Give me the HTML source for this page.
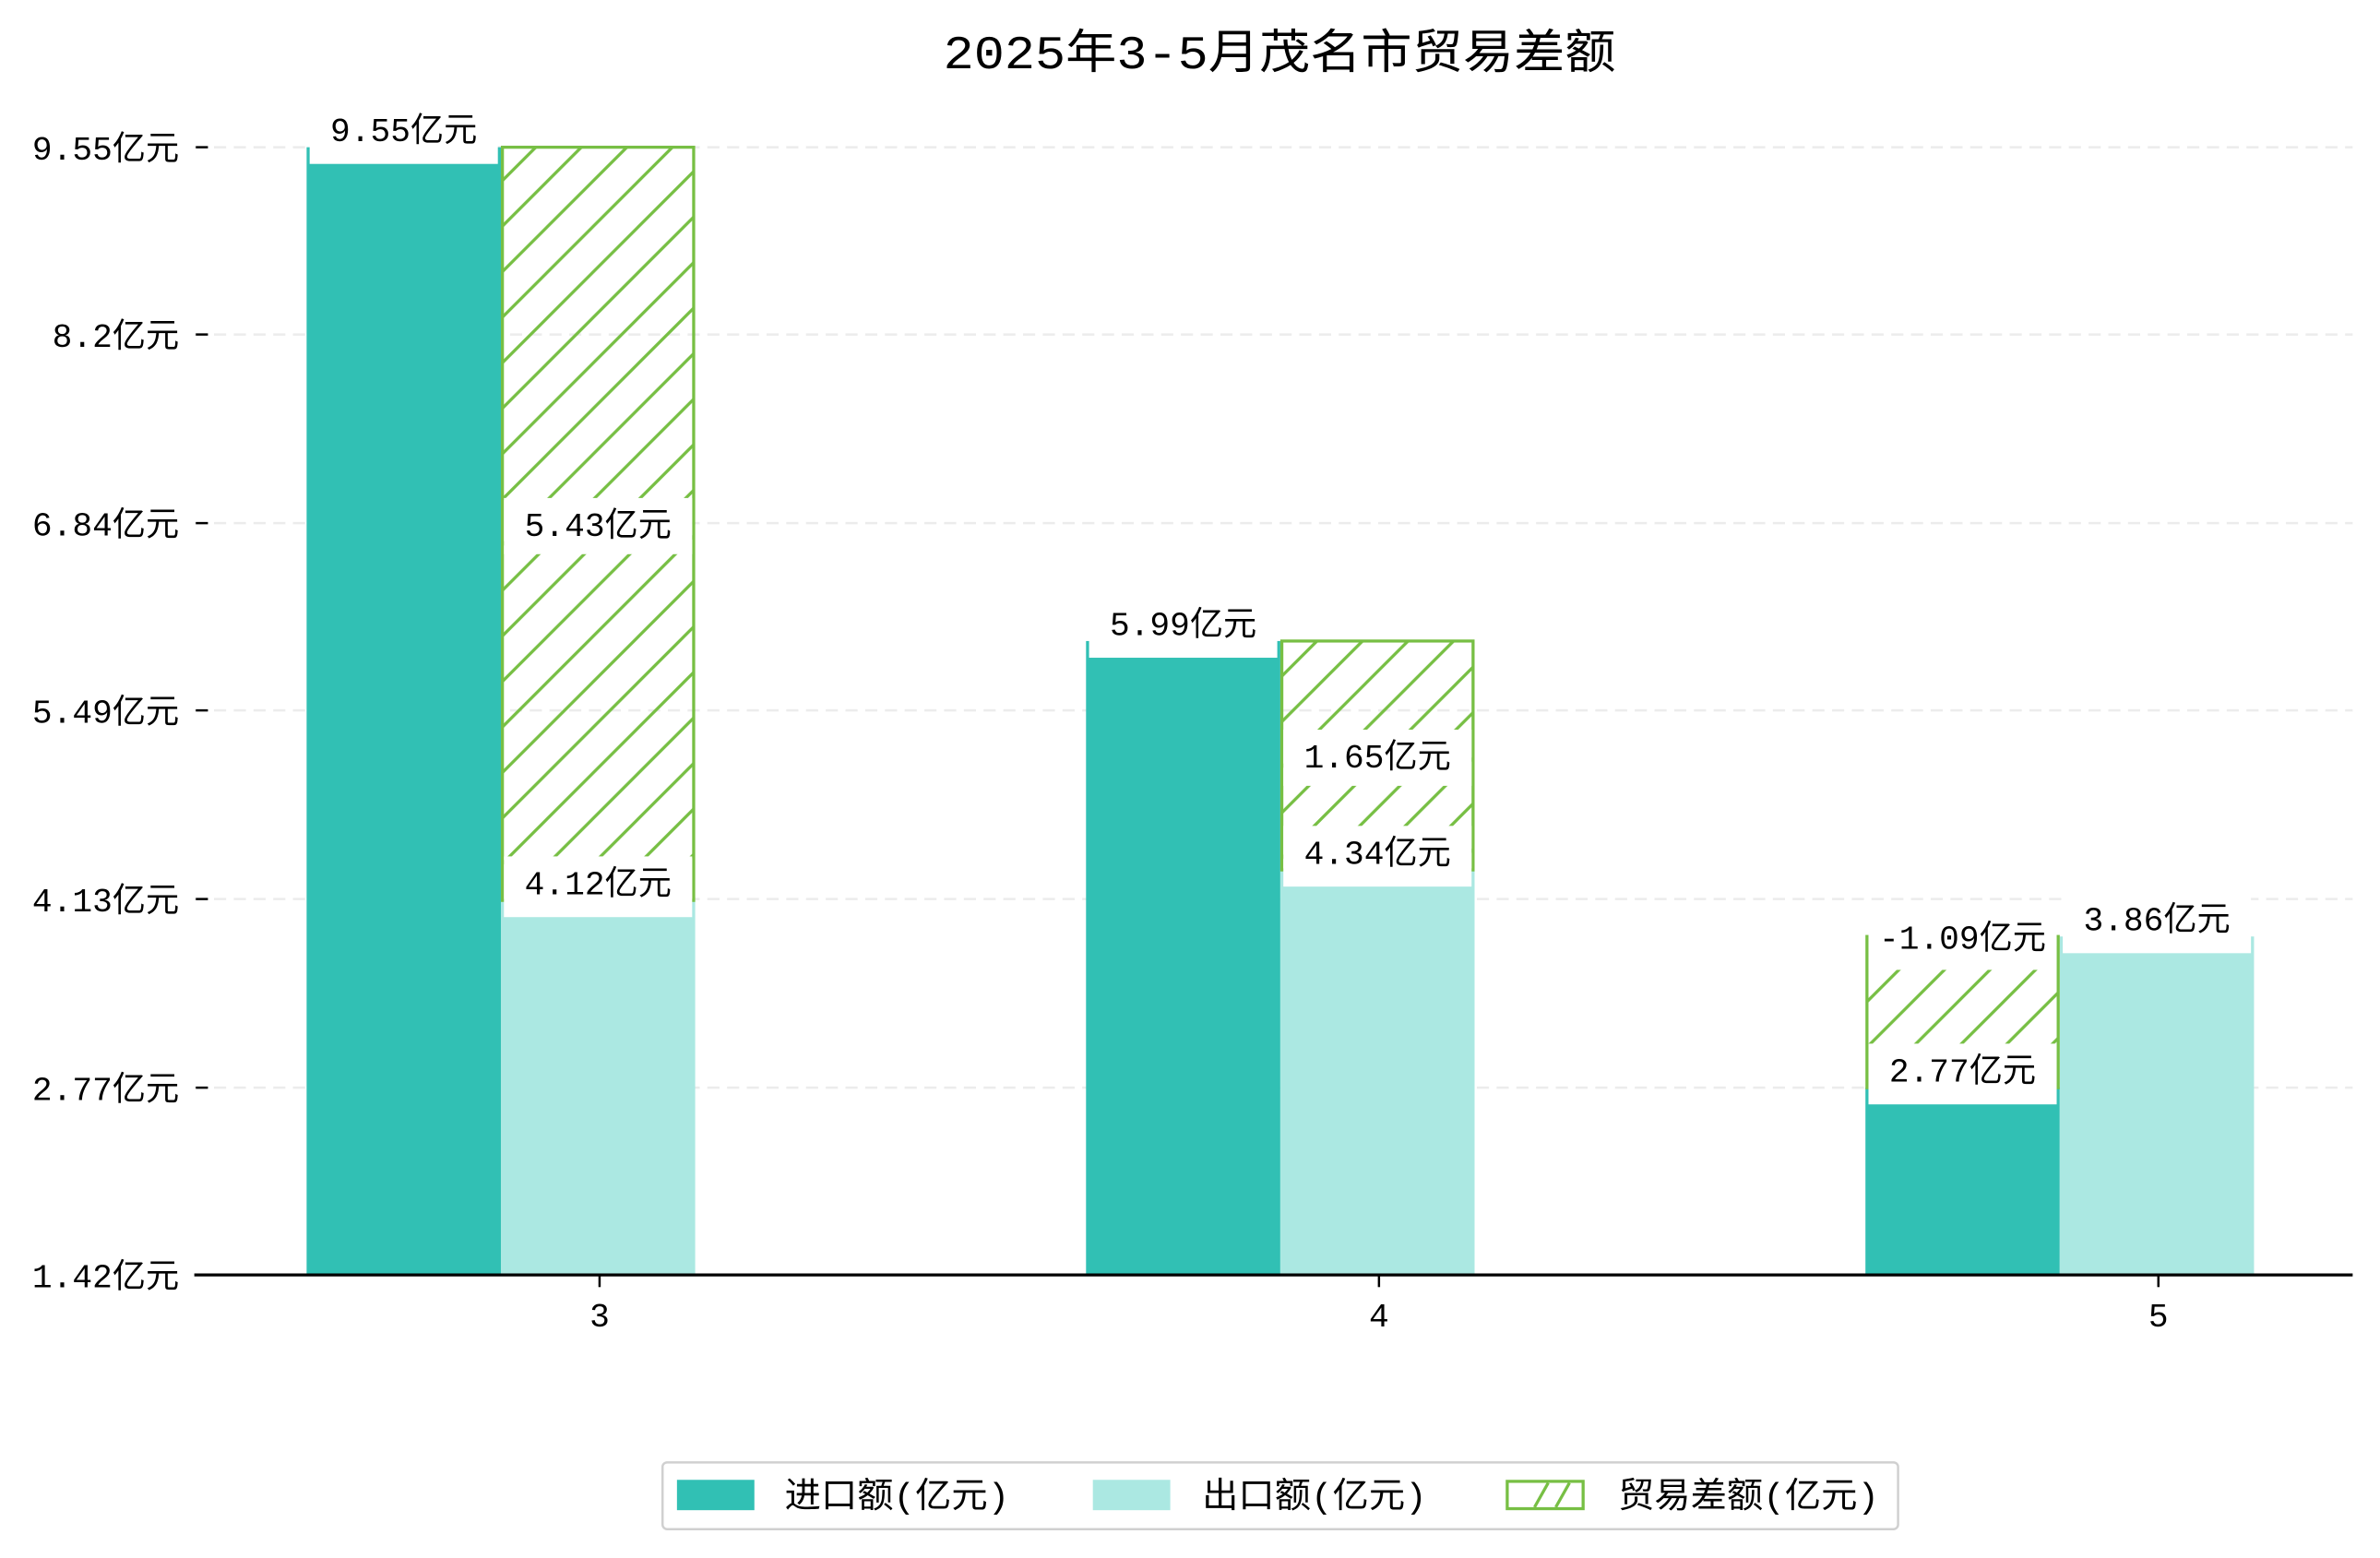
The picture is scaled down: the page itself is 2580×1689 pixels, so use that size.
<!DOCTYPE html>
<html><head><meta charset="utf-8"><style>
html,body{margin:0;padding:0;background:#fff;}
svg{display:block;font-family:"Liberation Mono","Noto Sans CJK SC",monospace;}
</style></head><body>
<svg id="chart" width="2580" height="1689" viewBox="0 0 1568 1026.5" xmlns="http://www.w3.org/2000/svg">
<defs>
<pattern id="hatch" patternUnits="userSpaceOnUse" width="30" height="30">
<path d="M-5,35 L35,-5 M-20,20 L20,-20 M10,50 L50,10" stroke="#77bf44" stroke-width="2" fill="none"/>
</pattern>
</defs>
<rect width="1568" height="1026.5" fill="#fff"/>
<text x="843" y="45" text-anchor="middle" font-size="31" fill="#000" textLength="443" lengthAdjust="spacingAndGlyphs">2025年3-5月茂名市贸易差额</text>
<g id="grid"></g><g id="bars"></g><g id="labels"></g><g id="axes"></g>
<g>
<rect x="436.5" y="963.5" width="814" height="44" rx="3" fill="#fff" stroke="#d0d0d0" stroke-width="1.5"/>
<rect x="446" y="975" width="51" height="20" fill="#31c0b4"/>
<text x="517" y="993" font-size="23" textLength="148" lengthAdjust="spacingAndGlyphs">进口额(亿元)</text>
<rect x="720" y="975" width="51" height="20" fill="#abe8e2"/>
<text x="792" y="993" font-size="23" textLength="148" lengthAdjust="spacingAndGlyphs">出口额(亿元)</text>
<rect x="993" y="976" width="50" height="18" fill="#fff" stroke="#77bf44" stroke-width="2"/>
<path d="M1011,993 L1020,977 M1025,993 L1034,977" stroke="#77bf44" stroke-width="2"/>
<text x="1066" y="993" font-size="23" textLength="172" lengthAdjust="spacingAndGlyphs">贸易差额(亿元)</text>
</g>
</svg>
<script>
const months = ['3', '4', '5'];
const importVals = [9.55, 5.99, 2.77];
const exportVals = [4.12, 4.34, 3.86];
const diffVals = [5.43, 1.65, -1.09];
const yTicks = [1.42, 2.77, 4.13, 5.49, 6.84, 8.2, 9.55];
const yTickLabels = ['1.42亿元', '2.77亿元', '4.13亿元', '5.49亿元', '6.84亿元', '8.2亿元', '9.55亿元'];

const NS = 'http://www.w3.org/2000/svg';
const y0 = 840, y1 = 97, vMin = 1.42, vMax = 9.55;
function yScale(v) { return y0 - (v - vMin) * (y0 - y1) / (vMax - vMin); }
function xCenter(i) { return 395 + i * 513.5; }
const BW = 128;
function mk(tag, attrs, parent) {
  const e = document.createElementNS(NS, tag);
  for (const k in attrs) e.setAttribute(k, attrs[k]);
  parent.appendChild(e);
  return e;
}
const grid = document.getElementById('grid');
const bars = document.getElementById('bars');
const labels = document.getElementById('labels');
const axes = document.getElementById('axes');

yTicks.forEach((t, i) => {
  const y = yScale(t);
  if (i > 0) {
    const g = mk('line', {x1: 128, x2: 1550, y1: y, y2: y, stroke: '#ececec', 'stroke-width': 1.5, 'stroke-dasharray': '8,5'}, grid);
    
    
  }
  const tk = mk('line', {x1: 129, x2: 137, y1: y, y2: y, stroke: '#000', 'stroke-width': 1.5}, axes);
  
  
  const tl = mk('text', {x: 118, y: y + 8, 'text-anchor': 'end', 'font-size': 22}, axes);
  tl.textContent = yTickLabels[i];
  
  
});
const xa = mk('line', {x1: 128, x2: 1550, y1: y0, y2: y0, stroke: '#000', 'stroke-width': 2}, axes);



function label(cx, textCenter, boxBottom, txt, name) {
  const b = mk('rect', {x: cx - 62, y: textCenter - 17, width: 124, height: boxBottom - (textCenter - 17), fill: '#fff'}, labels);
  
  
  const t = mk('text', {x: cx, y: textCenter + 8, 'text-anchor': 'middle', 'font-size': 22}, labels);
  t.textContent = txt;
  
  
}

months.forEach((m, i) => {
  const xc = xCenter(i);
  const ix = xc - 193, ex = xc - 65;
  const ri = mk('rect', {x: ix, y: yScale(importVals[i]), width: BW, height: y0 - yScale(importVals[i]), fill: '#31c0b4'}, bars);
  
  
  const re = mk('rect', {x: ex, y: yScale(exportVals[i]), width: BW, height: y0 - yScale(exportVals[i]), fill: '#abe8e2'}, bars);
  
  
  const lo = Math.min(importVals[i], exportVals[i]);
  const hi = lo + Math.abs(diffVals[i]);
  const dx = importVals[i] < exportVals[i] ? ix : ex;
  const rd = mk('rect', {x: dx + 1, y: yScale(hi), width: BW - 2, height: yScale(lo) - yScale(hi), fill: 'url(#hatch)', stroke: '#77bf44', 'stroke-width': 2}, bars);
  
  
  const xt = mk('line', {x1: xc, x2: xc, y1: y0, y2: y0 + 8, stroke: '#000', 'stroke-width': 1.5}, axes);
  
  
  const xl = mk('text', {x: xc, y: y0 + 34, 'text-anchor': 'middle', 'font-size': 22}, axes);
  xl.textContent = m;
  
  
  const iy = yScale(importVals[i]), ey = yScale(exportVals[i]);
  label(ix + BW / 2, iy - 12, iy + 11, importVals[i].toFixed(2) + '亿元', 'label-import-' + m);
  label(ex + BW / 2, ey - 12, ey + 11, exportVals[i].toFixed(2) + '亿元', 'label-export-' + m);
  if (diffVals[i] >= 0) {
    const mid = (yScale(hi) + yScale(lo)) / 2;
    label(dx + BW / 2, mid, mid + 20, diffVals[i].toFixed(2) + '亿元', 'label-balance-' + m);
  } else {
    const top = yScale(hi);
    label(dx + BW / 2, top, top + 22, diffVals[i].toFixed(2) + '亿元', 'label-balance-' + m);
  }
});
</script>
</body></html>
